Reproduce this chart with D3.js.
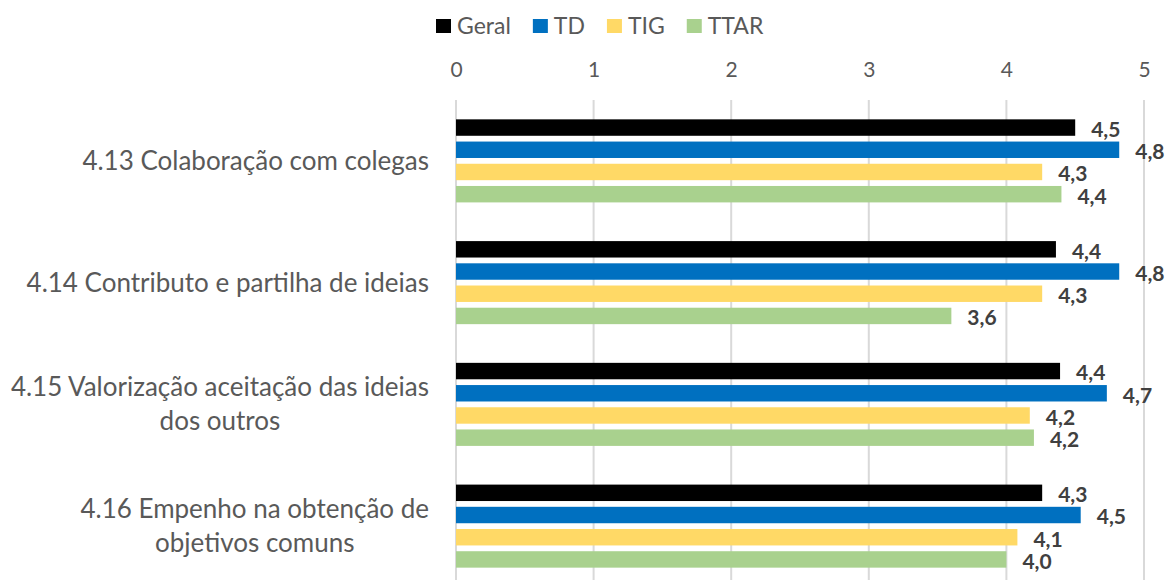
<!DOCTYPE html>
<html>
<head>
<meta charset="utf-8">
<script src="https://cdn.jsdelivr.net/npm/d3@7"></script>
<style>
  body { margin: 0; background: #fff; }
  svg { display: block; font-family: Lato, "Open Sans", sans-serif; }
</style>
</head>
<body>
<svg id="chart" width="1169" height="580"></svg>
<script>
const categories = [
    '4.13 Colaboração com colegas',
    '4.14 Contributo e partilha de ideias',
    '4.15 Valorização aceitação das ideias dos outros',
    '4.16 Empenho na obtenção de objetivos comuns'
];
const seriesNames = ['Geral', 'TD', 'TIG', 'TTAR'];
const geral = [4.50, 4.36, 4.39, 4.26];
const td = [4.82, 4.82, 4.73, 4.54];
const tig = [4.26, 4.26, 4.17, 4.08];
const ttar = [4.40, 3.60, 4.20, 4.00];
const xTicks = [0, 1, 2, 3, 4, 5];

const seriesValues = [geral, td, tig, ttar];
const colors = ['#000000', '#0070C0', '#FFD966', '#A9D18E'];

const svg = d3.select('#chart');
const margin = { top: 100, right: 25, bottom: -7, left: 456 };
const width = +svg.attr('width');
const height = +svg.attr('height');

const x = d3.scaleLinear().domain([0, 5]).range([margin.left, width - margin.right]);
const y = d3.scaleBand().domain(categories)
    .range([margin.top, height - margin.bottom])
    .paddingInner(0.223).paddingOuter(0.1115);
const ySub = d3.scaleBand().domain(seriesNames).range([0, y.bandwidth()]).padding(0.26);

// gridlines
svg.append('g')
    .selectAll('line')
    .data(xTicks)
    .enter().append('line')
    .attr('x1', d => x(d)).attr('x2', d => x(d))
    .attr('y1', margin.top).attr('y2', height)
    .attr('stroke', '#d9d9d9')
    .attr('stroke-width', 2);

// top axis labels
const axis = svg.append('g')
    .attr('transform', `translate(0,${margin.top - 23})`)
    .call(d3.axisTop(x).tickValues(xTicks).tickFormat(d3.format('d')).tickSize(0).tickPadding(0));
axis.select('.domain').remove();
axis.selectAll('text')
    .attr('font-size', 21)
    .attr('font-family', 'Lato, "Open Sans", sans-serif')
    .attr('fill', '#595959');

// bars
const rows = [];
categories.forEach((c, i) => {
    seriesNames.forEach((s, j) => rows.push({ cat: c, series: s, value: seriesValues[j][i], color: colors[j] }));
});

svg.append('g')
    .selectAll('rect')
    .data(rows)
    .enter().append('rect')
    .attr('x', x(0))
    .attr('y', d => y(d.cat) + ySub(d.series))
    .attr('width', d => x(d.value) - x(0))
    .attr('height', ySub.bandwidth())
    .attr('fill', d => d.color);

const fmt = v => d3.format('.1f')(v).replace('.', ',');
svg.append('g')
    .selectAll('text')
    .data(rows)
    .enter().append('text')
    .attr('x', d => x(d.value) + 16)
    .attr('y', d => y(d.cat) + ySub(d.series) + ySub.bandwidth() / 2 + 2)
    .attr('dy', '0.35em')
    .attr('font-size', 21)
    .attr('font-weight', 'bold')
    .attr('fill', '#404040')
    .text(d => fmt(d.value));

// category labels, wrapped and centred like Excel
const labelRight = margin.left - 27;
const maxLabelWidth = 432;
const lineHeight = 34;
const catG = svg.append('g')
    .attr('font-size', 26)
    .attr('fill', '#595959');

categories.forEach(c => {
    const t = catG.append('text');
    const words = c.split(' ');
    const lines = [];
    let line = [];
    const probe = t.append('tspan');
    words.forEach(w => {
        line.push(w);
        probe.text(line.join(' '));
        if (probe.node().getComputedTextLength() > maxLabelWidth && line.length > 1) {
            line.pop();
            lines.push(line.join(' '));
            line = [w];
        }
    });
    lines.push(line.join(' '));
    probe.remove();

    const widths = lines.map(l => {
        const s = t.append('tspan').text(l);
        const w = s.node().getComputedTextLength();
        s.remove();
        return w;
    });
    const blockW = d3.max(widths);
    const cx = labelRight - blockW / 2;
    const cy = y(c) + y.bandwidth() / 2;
    t.attr('text-anchor', 'middle');
    lines.forEach((l, k) => {
        t.append('tspan')
            .attr('x', cx)
            .attr('y', cy + (k - (lines.length - 1) / 2) * lineHeight)
            .attr('dy', '0.35em')
            .text(l);
    });
});

// legend
const legend = svg.append('g').attr('transform', 'translate(436,26)');
let lx = 0;
seriesNames.forEach((s, j) => {
    const item = legend.append('g').attr('transform', `translate(${lx},0)`);
    item.append('rect')
        .attr('x', 0).attr('y', -7)
        .attr('width', 15).attr('height', 14)
        .attr('fill', colors[j]);
    const txt = item.append('text')
        .attr('x', 21)
        .attr('dy', '0.35em')
        .attr('font-size', 23)
        .attr('fill', '#595959')
        .text(s);
    lx += 21 + txt.node().getComputedTextLength() + 22;
});
</script>
</body>
</html>
